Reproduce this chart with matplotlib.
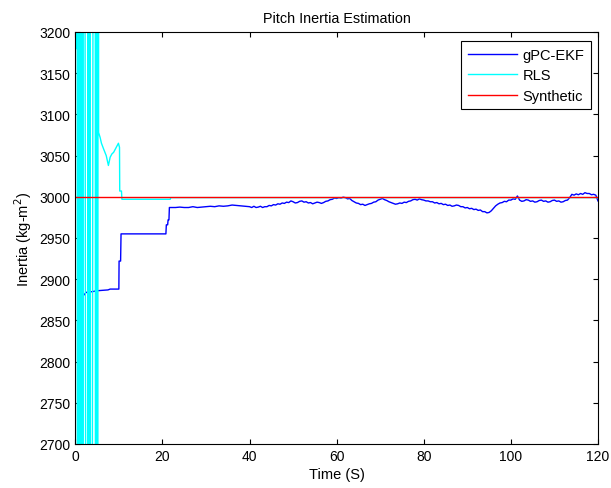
import matplotlib
matplotlib.use("Agg")
import matplotlib.pyplot as plt

plt.rcParams['font.family'] = ['Liberation Sans', 'DejaVu Sans']

# gPC-EKF estimate
ekf_t = [2.0, 2.5, 4.0, 5.0, 7.5, 8.0, 10.0, 10.05, 10.4, 10.5, 20.8, 20.9, 21.2, 21.3, 21.5, 21.6,
         23, 24, 25, 26, 27, 28, 29, 30, 31, 32, 33, 34, 35, 36, 37, 38, 39,
         40, 40.5, 41, 41.5, 42, 42.5, 43, 43.5, 44, 44.5, 45, 45.5, 46, 46.5, 47, 47.5, 48, 48.5, 49, 49.5,
         50, 50.5, 51, 51.5, 52, 52.5, 53, 53.5, 54, 54.5, 55, 55.5, 56, 56.5, 57, 57.5, 58, 58.5, 59, 59.5,
         60, 60.5, 61, 61.5, 62, 62.5, 63, 63.5, 64, 64.5, 65, 65.5, 66, 66.5, 67, 67.5, 68, 68.5, 69, 69.5,
         70, 70.5, 71, 71.5, 72, 72.5, 73, 73.5, 74, 74.5, 75, 75.5, 76, 76.5, 77, 77.5, 78, 78.5, 79, 79.5,
         80, 80.5, 81, 81.5, 82, 82.5, 83, 83.5, 84, 84.5, 85, 85.5, 86, 86.5, 87, 87.5, 88, 88.5, 89, 89.5,
         90, 90.5, 91, 91.5, 92, 92.5, 93, 93.5, 94, 94.5, 95, 95.5, 96, 96.5, 97, 97.5, 98, 98.5, 99, 99.5,
         100, 100.5, 101, 101.5, 102, 102.5, 103, 103.5, 104, 104.5, 105, 105.5, 106, 106.5, 107, 107.5,
         108, 108.5, 109, 109.5, 110, 110.5, 111, 111.5, 112, 112.5, 113, 113.5, 114, 114.5, 115, 115.5,
         116, 116.5, 117, 117.5, 118, 118.5, 119, 119.5, 120]
ekf_v = [2881, 2884, 2885, 2886, 2887, 2888, 2888, 2922, 2922, 2955, 2955, 2966, 2966, 2972, 2972, 2987,
         2987, 2987.5, 2987, 2987, 2988, 2987, 2987.5, 2988, 2988.5, 2988, 2989, 2988.5, 2989, 2990, 2989.5, 2989, 2988.5,
         2988, 2987, 2988.5, 2987, 2987.5, 2988.5, 2987, 2988, 2988, 2989.5, 2989, 2990.5, 2990, 2991.5, 2991, 2992.5, 2992, 2993.5, 2993, 2995,
         2994, 2992.5, 2993, 2994.5, 2995, 2993.5, 2994, 2992.5, 2993, 2991.5, 2992.5, 2993.5, 2993, 2992, 2993, 2994.5, 2995, 2996.5, 2997, 2998.5,
         2998, 2999, 2998.5, 2999.5, 2999, 2997.5, 2998, 2995.5, 2994, 2992.5, 2992, 2990.5, 2991, 2989.5, 2990.5, 2991.5, 2992, 2993.5, 2994, 2996,
         2997, 2998, 2996.5, 2995.5, 2994, 2993, 2992, 2991, 2991.5, 2992.5, 2992, 2993.5, 2993, 2994.5, 2995, 2996.5, 2997, 2996, 2997.5, 2996.5,
         2996, 2995, 2995, 2994, 2994, 2992.5, 2993, 2991.5, 2992, 2990.5, 2991, 2989.5, 2990, 2988.5, 2989, 2990, 2989.5, 2988, 2988, 2986.5,
         2987, 2985.5, 2986, 2984.5, 2985, 2983.5, 2984, 2982, 2982, 2980.5, 2981, 2983, 2986, 2989, 2991, 2992.5, 2993, 2994.5, 2994, 2996,
         2996, 2997.5, 2997, 3001, 2996, 2994.5, 2995, 2996.5, 2996, 2994.5, 2995, 2993.5, 2994, 2995.5, 2996, 2994.5,
         2995, 2993.5, 2994, 2995.5, 2996, 2994.5, 2995, 2993.5, 2994, 2995.5, 2996, 2999, 3003, 3002, 3003.5, 3002.5,
         3004, 3003, 3005, 3004, 3004, 3002.5, 3003, 3002, 2995]

# RLS estimate
rls_t = [0.23, 0.38, 0.53, 0.68, 0.83, 0.98, 1.13, 1.28, 1.43, 1.58, 1.73, 1.83,
         2.75, 2.95, 3.15, 3.35, 3.5, 4.5, 4.7, 4.9, 5.1, 5.3, 5.35,
         5.7, 6.0, 6.5, 7.1, 7.6, 8.0, 8.4, 8.8, 9.2, 9.6, 9.9, 10.15, 10.2, 10.6, 10.7, 21.8, 21.9, 120]
rls_v = [3180, 5000, 1000, 5000, 1000, 5000, 1000, 5000, 1000, 5000, 1000, 5000,
         1000, 5000, 1000, 5000, 1000, 5000, 1000, 5000, 1000, 5000, 3078,
         3072, 3065, 3058, 3050, 3038, 3048, 3052, 3054, 3058, 3062, 3065, 3060, 3007, 3007, 2997, 2997, 2999, 2999]

# Synthetic truth
syn_t = [0, 120]
syn_v = [3000, 3000]

fig = plt.figure(figsize=(6.11, 4.89), dpi=100)
ax = fig.add_axes([75.3 / 611, 44 / 489, 522.7 / 611, 412 / 489])

ax.plot(ekf_t, ekf_v, color=(0, 0, 1), lw=1.0, label='gPC-EKF')
ax.plot(rls_t, rls_v, color=(0, 1, 1), lw=1.0, label='RLS')
ax.plot(syn_t, syn_v, color=(1, 0, 0), lw=1.0, label='Synthetic')

ax.set_xlim(0, 120)
ax.set_ylim(2700, 3200)
ax.set_xticks(range(0, 121, 20))
ax.set_yticks(range(2700, 3201, 50))
ax.tick_params(direction='in', top=True, right=True, length=3.6, labelsize=10, pad=3.5)
for s in ax.spines.values():
    s.set_linewidth(0.8)

ax.set_title('Pitch Inertia Estimation', fontsize=10.4, pad=7)
ax.set_xlabel('Time (S)', fontsize=10.5, labelpad=3)
ax.set_ylabel('Inertia (kg-m$^2$)', fontsize=10.5, labelpad=4)

leg = ax.legend(loc='upper right', bbox_to_anchor=(0.9866, 0.978), borderaxespad=0,
                fontsize=10.5, fancybox=False, edgecolor='black', framealpha=1,
                handlelength=3.4, handletextpad=0.35, labelspacing=0.45, borderpad=0.45)
leg.get_frame().set_linewidth(0.8)

fig.savefig('out.png', dpi=100)
